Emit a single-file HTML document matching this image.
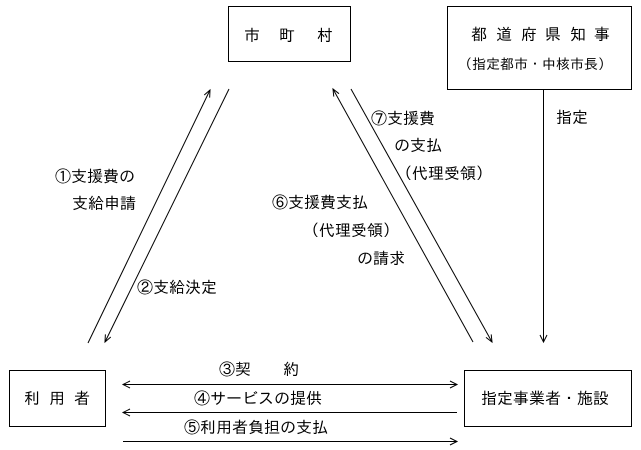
<!DOCTYPE html>
<html>
<head>
<meta charset="utf-8">
<style>
html,body{margin:0;padding:0;background:#fff;}
body{width:641px;height:450px;overflow:hidden;}
svg{display:block;}
text{font-family:"Liberation Sans","IPAGothic","Noto Sans CJK JP",sans-serif;font-size:16px;fill:#000;}
.s{font-size:14px;}
</style>
</head>
<body>
<svg width="641" height="450" viewBox="0 0 641 450" xmlns="http://www.w3.org/2000/svg">
<g fill="none" stroke="#000" stroke-width="1">
  <!-- boxes -->
  <rect x="228.5" y="6.5" width="122" height="55" shape-rendering="crispEdges"/>
  <rect x="447.5" y="6.5" width="184" height="83" shape-rendering="crispEdges"/>
  <rect x="9.5" y="370.5" width="96" height="56" shape-rendering="crispEdges"/>
  <rect x="464.5" y="370.5" width="167" height="56" shape-rendering="crispEdges"/>

  <!-- left diagonals -->
  <line x1="88" y1="343" x2="210" y2="90"/>
  <polyline points="209.66,97.6 210,90 204.26,95"/>
  <line x1="229" y1="89" x2="105" y2="342"/>
  <polyline points="110.77,337.03 105,342 105.39,334.39"/>

  <!-- right diagonals -->
  <line x1="473" y1="342" x2="333" y2="89"/>
  <polyline points="339.01,93.67 333,89 333.77,96.57"/>
  <line x1="351" y1="89" x2="492" y2="342"/>
  <polyline points="491.21,334.42 492,342 485.97,337.34"/>

  <!-- vertical -->
  <line x1="543.5" y1="90" x2="543.5" y2="342" shape-rendering="crispEdges"/>
  <polyline points="540,335 543.5,342 547,335"/>

  <!-- horizontals -->
  <line x1="123" y1="384.5" x2="457" y2="384.5" shape-rendering="crispEdges"/>
  <polyline points="130,381 123,384.5 130,388"/>
  <polyline points="450,381 457,384.5 450,388"/>
  <line x1="123" y1="412.5" x2="457" y2="412.5" shape-rendering="crispEdges"/>
  <polyline points="130,409 123,412.5 130,416"/>
  <line x1="123" y1="441.5" x2="457" y2="441.5" shape-rendering="crispEdges"/>
  <polyline points="450,438 457,441.5 450,445"/>
</g>

<!-- box labels -->
<text x="244" y="41">市</text>
<text x="279" y="41">町</text>
<text x="317" y="41">村</text>

<text x="471" y="40">都</text>
<text x="496" y="40">道</text>
<text x="521" y="40">府</text>
<text x="545" y="40">県</text>
<text x="570" y="40">知</text>
<text x="594" y="40">事</text>
<text class="s" x="458" y="69">（指定都市・中核市長）</text>

<text x="24" y="404">利</text>
<text x="49" y="404">用</text>
<text x="74" y="404">者</text>

<text x="481" y="404">指定事業者・施設</text>

<!-- connector labels -->
<text x="55" y="182">①支援費の</text>
<text x="72" y="209">支給申請</text>
<text x="137" y="293">②支給決定</text>

<text x="371" y="124">⑦支援費</text>
<text x="394" y="151">の支払</text>
<text x="396" y="179">（代理受領）</text>

<text x="272" y="208">⑥支援費支払</text>
<text x="303" y="236">（代理受領）</text>
<text x="357" y="264">の請求</text>

<text x="556" y="123">指定</text>

<text x="219" y="375">③契　　約</text>
<text x="194" y="404">④サービスの提供</text>
<text x="184" y="433">⑤利用者負担の支払</text>
</svg>
</body>
</html>
